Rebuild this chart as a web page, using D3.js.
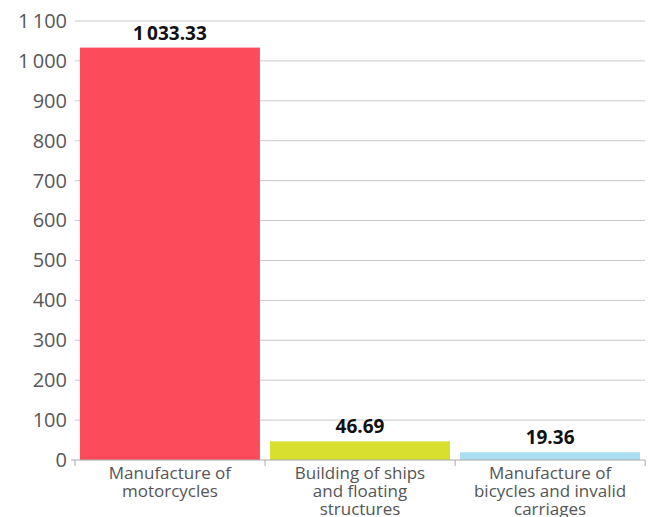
<!DOCTYPE html>
<html>
<head>
<meta charset="utf-8">
<script src="https://cdn.jsdelivr.net/npm/d3@7"></script>
<style>
  body { margin: 0; background: #fff; }
  svg { font-family: "Open Sans", sans-serif; }
</style>
</head>
<body>
<div id="chart"></div>
<script>
const categories = ["Manufacture of motorcycles", "Building of ships and floating structures", "Manufacture of bicycles and invalid carriages"];
const categoryLines = [["Manufacture of", "motorcycles"], ["Building of ships", "and floating", "structures"], ["Manufacture of", "bicycles and invalid", "carriages"]];
const values = [1033.33, 46.69, 19.36];
const colors = ["#fc4b5b", "#d8df2f", "#a9dff1"];
const yTicks = [0, 100, 200, 300, 400, 500, 600, 700, 800, 900, 1000, 1100];

const width = 651, height = 517;
const margin = {top: 21, right: 6, bottom: 57, left: 75};
const innerW = width - margin.left - margin.right;
const innerH = height - margin.top - margin.bottom;

const locale = d3.formatLocale({decimal: ".", thousands: "\u2009", grouping: [3], currency: ["", ""]});
const fmtTick = locale.format(",d");
const fmtVal = locale.format(",.2f");

const svg = d3.select("#chart").append("svg")
    .attr("width", width)
    .attr("height", height);
const g = svg.append("g")
    .attr("transform", "translate(" + margin.left + "," + margin.top + ")");

const x = d3.scaleBand().domain(categories).range([0, innerW]).paddingInner(0.053).paddingOuter(0.026);
const y = d3.scaleLinear().domain([0, 1100]).range([innerH, 0]);

// gridlines
g.append("g").selectAll("line")
    .data(yTicks.filter(t => t > 0))
    .join("line")
    .attr("x1", 0).attr("x2", innerW)
    .attr("y1", d => y(d)).attr("y2", d => y(d))
    .attr("stroke", "#c8c8c8").attr("stroke-width", 1);

// y axis labels
const yAxis = g.append("g")
    .call(d3.axisLeft(y).tickValues(yTicks).tickFormat(fmtTick).tickSize(0).tickPadding(8));
yAxis.select(".domain").remove();
yAxis.selectAll("text")
    .attr("fill", "#585858")
    .style("font-size", "20px")
    .style("font-family", "'Open Sans', sans-serif");

// bars
g.selectAll(".bar")
    .data(values)
    .join("rect")
    .attr("class", "bar")
    .attr("x", (d, i) => x(categories[i]))
    .attr("width", x.bandwidth())
    .attr("y", d => y(d))
    .attr("height", d => innerH - y(d))
    .attr("fill", (d, i) => colors[i]);

// value labels
g.selectAll(".val")
    .data(values)
    .join("text")
    .attr("class", "val")
    .attr("x", (d, i) => x(categories[i]) + x.bandwidth() / 2)
    .attr("y", d => y(d) - 8)
    .attr("text-anchor", "middle")
    .attr("fill", "#111")
    .style("font-size", "19px")
    .style("font-weight", "bold")
    .text(d => fmtVal(d));

// x axis line and ticks
const step = x.step();
const bounds = d3.range(categories.length + 1).map(i => i * step);
g.append("line")
    .attr("x1", -4).attr("x2", innerW)
    .attr("y1", innerH).attr("y2", innerH)
    .attr("stroke", "#aaa");
g.append("g").selectAll("line")
    .data(bounds)
    .join("line")
    .attr("x1", d => d).attr("x2", d => d)
    .attr("y1", innerH).attr("y2", innerH + 6)
    .attr("stroke", "#aaa");

// category labels
const cat = g.selectAll(".cat")
    .data(categoryLines)
    .join("text")
    .attr("class", "cat")
    .attr("text-anchor", "middle")
    .attr("fill", "#555")
    .style("font-size", "17px")
    .attr("transform", (d, i) => "translate(" + (x(categories[i]) + x.bandwidth() / 2) + "," + (innerH + 19) + ")");
cat.selectAll("tspan")
    .data(d => d)
    .join("tspan")
    .attr("x", 0)
    .attr("dy", (d, i) => i === 0 ? 0 : 18)
    .text(d => d);
</script>
</body>
</html>
